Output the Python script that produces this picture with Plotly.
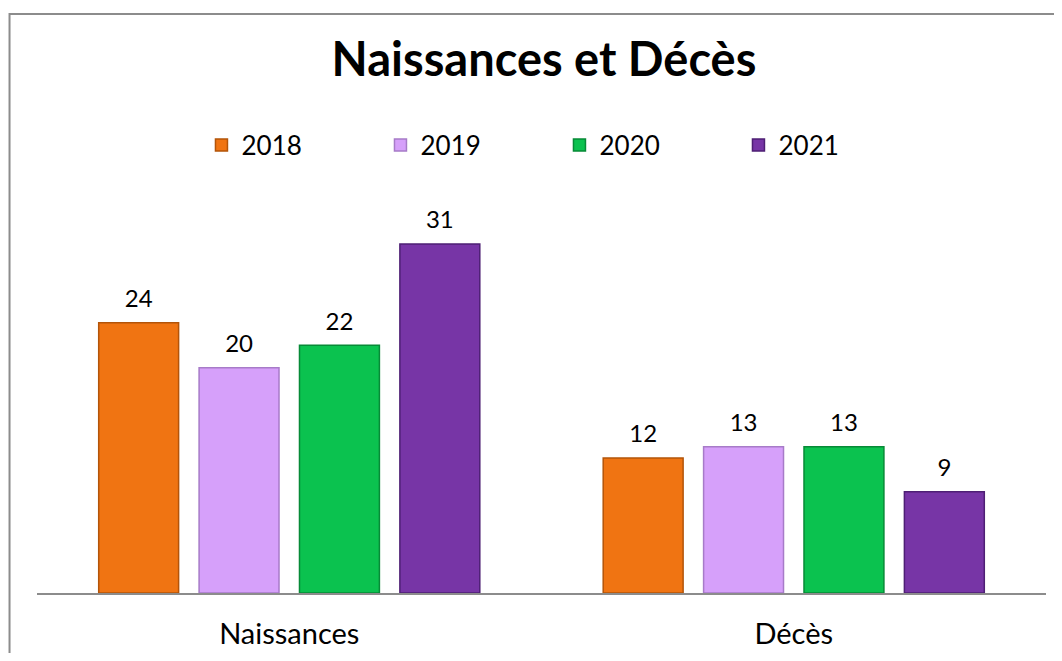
import plotly.graph_objects as go

categories = ["Naissances", "Décès"]
years = ["2018", "2019", "2020", "2021"]
values = {
    "2018": [24, 12],
    "2019": [20, 13],
    "2020": [22, 13],
    "2021": [31, 9],
}
colors = {
    "2018": ("#F07412", "#B35409"),
    "2019": ("#D6A0FA", "#A77BC8"),
    "2020": ("#0BC24F", "#078A37"),
    "2021": ("#7735A6", "#4E1F74"),
}

FONT = "Lato, Calibri, sans-serif"

fig = go.Figure()

for year in years:
    fill, edge = colors[year]
    fig.add_trace(
        go.Bar(
            x=categories,
            y=values[year],
            name=year,
            offsetgroup=year,
            marker=dict(color=fill, line=dict(color=edge, width=1.5)),
        )
    )
    # value labels, lifted a bit above the bars
    fig.add_trace(
        go.Scatter(
            x=categories,
            y=values[year],
            offsetgroup=year,
            mode="markers+text",
            marker=dict(size=14, opacity=0),
            text=values[year],
            textposition="top center",
            textfont=dict(size=24, color="black", family=FONT),
            showlegend=False,
            cliponaxis=False,
            hoverinfo="skip",
        )
    )

fig.update_layout(
    width=1046,
    height=645,
    barmode="group",
    scattermode="group",
    bargap=0.204,
    bargroupgap=0.204,
    scattergap=0.204,
    plot_bgcolor="white",
    paper_bgcolor="white",
    margin=dict(l=28.5, r=7.5, t=191, b=60, autoexpand=False),
    title=dict(
        text="<b>Naissances et Décès</b>",
        x=(544 - 8) / 1046,
        xanchor="center",
        y=1 - 52 / 645,
        yanchor="middle",
        font=dict(size=47, color="black", family=FONT),
    ),
    legend=dict(
        orientation="h",
        x=0.163,
        xanchor="left",
        y=1 + (191 - 137) / 394,
        yanchor="middle",
        font=dict(size=26, color="black", family=FONT),
        entrywidth=134,
        entrywidthmode="pixels",
    ),
    showlegend=True,
)

fig.update_xaxes(
    automargin=False,
    showline=True,
    linecolor="#8C8C8C",
    linewidth=1.5,
    ticks="",
    ticklabelstandoff=14,
    tickfont=dict(size=29, color="black", family=FONT),
)
fig.update_yaxes(
    automargin=False,
    range=[0, 35],
    visible=False,
)

# chart frame
fig.add_shape(
    type="rect",
    xref="paper",
    yref="paper",
    x0=(1 - 28.5) / 1010,
    x1=1.05,
    y0=-0.3,
    y1=1 + (191 - 6) / 394,
    line=dict(color="#8C8C8C", width=2),
    layer="below",
)

fig.write_html("out.html")
